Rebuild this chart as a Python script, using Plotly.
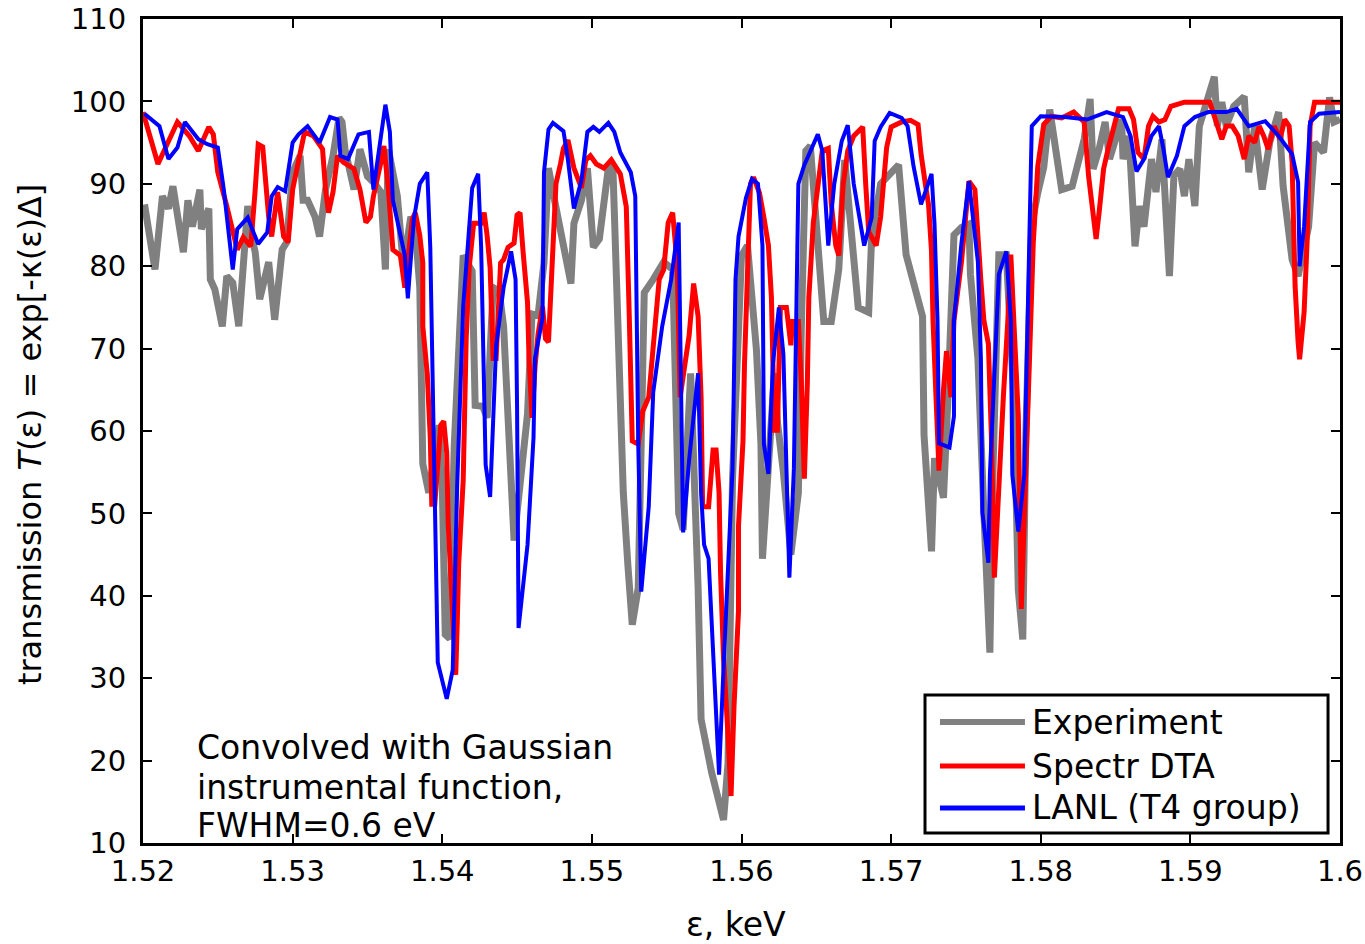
import plotly.graph_objects as go

# ---------------- data ----------------
exp_x = [1.5201, 1.5208, 1.5213, 1.5217, 1.5220, 1.5223, 1.5227, 1.5230, 1.5233, 1.5238,
         1.5239, 1.5244, 1.5245, 1.5248, 1.5253, 1.5256, 1.5260, 1.5264, 1.5270, 1.5273,
         1.5275, 1.5278, 1.5284, 1.5288, 1.5293, 1.5296, 1.5300, 1.5305, 1.5307, 1.5310,
         1.5315, 1.5318, 1.5322, 1.5327, 1.5331, 1.5333, 1.5335, 1.5341, 1.5345, 1.5350,
         1.5354, 1.5359, 1.5362, 1.5364, 1.5370, 1.5374, 1.5379, 1.5382, 1.5385, 1.5387,
         1.5391, 1.5398, 1.5400, 1.5402, 1.5405, 1.5408, 1.5414, 1.5420, 1.5422, 1.5427,
         1.5430, 1.5434, 1.5438, 1.5441, 1.5446, 1.5448, 1.5452, 1.5457, 1.5460, 1.5464,
         1.5468, 1.5471, 1.5474, 1.5480, 1.5486, 1.5488, 1.5493, 1.5497, 1.5501, 1.5505,
         1.5511, 1.5514, 1.5517, 1.5521, 1.5524, 1.5527, 1.5531, 1.5535, 1.5541, 1.5548,
         1.5554, 1.5558, 1.5561, 1.5566, 1.5571, 1.5573, 1.5580, 1.5588, 1.5591, 1.5594,
         1.5600, 1.5604, 1.5610, 1.5613, 1.5614, 1.5618, 1.5622, 1.5624, 1.5628, 1.5633,
         1.5638, 1.5640, 1.5643, 1.5646, 1.5653, 1.5655, 1.5660, 1.5665, 1.5669, 1.5673,
         1.5678, 1.5685, 1.5687, 1.5693, 1.5702, 1.5705, 1.5710, 1.5715, 1.5721, 1.5722,
         1.5727, 1.5729, 1.5735, 1.5738, 1.5742, 1.5747, 1.5752, 1.5753, 1.5758, 1.5762,
         1.5766, 1.5768, 1.5772, 1.5777, 1.5782, 1.5785, 1.5788, 1.5790, 1.5794, 1.5798,
         1.5802, 1.5806, 1.5809, 1.5814, 1.5821, 1.5826, 1.5829, 1.5833, 1.5835, 1.5839,
         1.5843, 1.5846, 1.5849, 1.5854, 1.5855, 1.5859, 1.5863, 1.5866, 1.5869, 1.5874,
         1.5877, 1.5881, 1.5886, 1.5889, 1.5893, 1.5896, 1.5899, 1.5903, 1.5906, 1.5912,
         1.5916, 1.5918, 1.5921, 1.5924, 1.5929, 1.5936, 1.5939, 1.5943, 1.5948, 1.5953,
         1.5959, 1.5962, 1.5968, 1.5972, 1.5979, 1.5983, 1.5989, 1.5993, 1.5996, 1.6000]
exp_y = [87.5, 79.6, 88.5, 87.0, 89.7, 86.0, 81.7, 88.0, 84.8, 89.3,
         84.5, 87.0, 78.4, 77.2, 72.7, 78.8, 78.0, 72.7, 87.3, 83.3,
         81.7, 76.0, 80.5, 73.5, 82.0, 82.9, 91.4, 93.4, 88.0, 88.0,
         86.0, 83.6, 89.3, 93.4, 98.0, 97.5, 94.2, 89.3, 94.2, 90.9,
         90.2, 89.0, 79.6, 94.2, 88.5, 80.0, 86.0, 84.5, 77.4, 56.0,
         52.5, 60.7, 53.5, 35.3, 34.8, 58.2, 81.3, 79.4, 63.1, 63.0,
         61.6, 77.4, 77.0, 72.7, 53.5, 46.7, 53.5, 62.1, 74.2, 74.0,
         80.4, 91.9, 89.0, 83.3, 77.9, 85.2, 88.0, 91.9, 82.3, 83.3,
         91.9, 92.3, 72.7, 52.5, 43.9, 36.5, 41.0, 76.8, 78.4, 80.5,
         79.6, 50.0, 48.0, 67.0, 41.0, 25.0, 18.6, 12.8, 19.7, 54.2,
         81.3, 82.5, 69.8, 58.4, 44.5, 55.4, 67.0, 61.1, 55.0, 45.0,
         52.5, 72.7, 94.0, 94.6, 79.6, 73.3, 73.3, 79.6, 92.9, 84.2,
         75.0, 74.4, 83.6, 90.0, 91.7, 92.3, 81.4, 78.2, 73.9, 59.5,
         45.4, 56.7, 51.9, 64.1, 83.8, 84.7, 85.1, 79.0, 68.8, 50.1,
         33.1, 54.7, 81.4, 81.4, 64.1, 40.7, 34.7, 59.5, 85.0, 88.9,
         92.0, 99.0, 95.0, 89.3, 89.7, 93.0, 95.4, 100.3, 91.8, 94.2,
         97.5, 93.0, 95.0, 97.8, 93.0, 95.8, 82.4, 87.3, 84.8, 93.0,
         89.0, 95.4, 78.8, 91.0, 91.8, 88.5, 93.0, 87.3, 97.0, 100.3,
         103.0, 97.0, 99.9, 97.0, 99.4, 100.6, 91.4, 97.0, 89.3, 95.0,
         98.7, 89.7, 80.8, 78.8, 84.8, 95.0, 93.8, 100.5, 97.5, 97.8]

dta_x = [1.5200, 1.5210, 1.5223, 1.5231, 1.5237, 1.5244, 1.5247, 1.5250, 1.5256, 1.5260,
         1.5263, 1.5267, 1.5272, 1.5275, 1.5277, 1.5280, 1.5282, 1.5284, 1.5286, 1.5290,
         1.5294, 1.5297, 1.5300, 1.5305, 1.5308, 1.5314, 1.5320, 1.5322, 1.5324, 1.5327,
         1.5330, 1.5334, 1.5341, 1.5345, 1.5349, 1.5352, 1.5354, 1.5359, 1.5361, 1.5364,
         1.5367, 1.5372, 1.5375, 1.5380, 1.5382, 1.5385, 1.5387, 1.5387, 1.5390, 1.5392,
         1.5393, 1.5395, 1.5399, 1.5401, 1.5403, 1.5404, 1.5407, 1.5409, 1.5410, 1.5411,
         1.5414, 1.5416, 1.5418, 1.5421, 1.5426, 1.5428, 1.5430, 1.5432, 1.5434, 1.5436,
         1.5439, 1.5441, 1.5444, 1.5448, 1.5450, 1.5452, 1.5454, 1.5457, 1.5458, 1.5460,
         1.5462, 1.5464, 1.5467, 1.5469, 1.5471, 1.5474, 1.5476, 1.5479, 1.5481, 1.5484,
         1.5488, 1.5493, 1.5496, 1.5499, 1.5503, 1.5508, 1.5513, 1.5519, 1.5523, 1.5525,
         1.5527, 1.5531, 1.5534, 1.5538, 1.5541, 1.5545, 1.5548, 1.5551, 1.5554, 1.5557,
         1.5559, 1.5565, 1.5568, 1.5571, 1.5573, 1.5574, 1.5578, 1.5581, 1.5583, 1.5585,
         1.5586, 1.5588, 1.5591, 1.5593, 1.5595, 1.5598, 1.5598, 1.5601, 1.5602, 1.5604,
         1.5606, 1.5608, 1.5612, 1.5615, 1.5618, 1.5620, 1.5622, 1.5624, 1.5626, 1.5630,
         1.5633, 1.5634, 1.5638, 1.5640, 1.5642, 1.5644, 1.5645, 1.5648, 1.5651, 1.5654,
         1.5658, 1.5660, 1.5663, 1.5665, 1.5668, 1.5671, 1.5675, 1.5681, 1.5683, 1.5685,
         1.5690, 1.5693, 1.5697, 1.5700, 1.5707, 1.5713, 1.5718, 1.5720, 1.5723, 1.5725,
         1.5727, 1.5728, 1.5730, 1.5732, 1.5735, 1.5737, 1.5740, 1.5742, 1.5747, 1.5750,
         1.5752, 1.5756, 1.5758, 1.5760, 1.5762, 1.5765, 1.5766, 1.5767, 1.5769, 1.5772,
         1.5775, 1.5778, 1.5780, 1.5782, 1.5785, 1.5787, 1.5789, 1.5792, 1.5795, 1.5798,
         1.5802, 1.5807, 1.5814, 1.5822, 1.5829, 1.5832, 1.5835, 1.5837, 1.5839, 1.5842,
         1.5845, 1.5852, 1.5859, 1.5862, 1.5865, 1.5869, 1.5872, 1.5875, 1.5879, 1.5883,
         1.5887, 1.5896, 1.5905, 1.5913, 1.5916, 1.5921, 1.5924, 1.5928, 1.5932, 1.5936,
         1.5939, 1.5943, 1.5946, 1.5949, 1.5952, 1.5956, 1.5960, 1.5963, 1.5966, 1.5968,
         1.5969, 1.5970, 1.5972, 1.5973, 1.5976, 1.5978, 1.5980, 1.5983, 1.6000]
dta_y = [98.7, 92.4, 97.5, 95.8, 94.0, 96.9, 96.0, 91.4, 87.3, 84.1,
         82.0, 83.5, 82.4, 89.3, 94.8, 94.5, 89.3, 86.0, 83.6, 89.0,
         83.6, 82.9, 89.3, 93.4, 96.3, 95.8, 94.2, 89.3, 86.5, 89.0,
         93.4, 92.6, 91.8, 89.3, 85.3, 86.0, 88.5, 92.6, 94.6, 89.3,
         82.0, 81.3, 77.4, 85.7, 86.5, 83.7, 80.4, 72.7, 66.9, 59.2,
         51.1, 51.1, 60.7, 61.2, 57.3, 48.6, 37.6, 30.4, 36.6, 43.9,
         54.0, 71.2, 79.8, 85.2, 85.2, 86.5, 83.7, 79.8, 68.8, 68.8,
         80.4, 80.8, 82.3, 82.8, 86.2, 86.5, 81.8, 75.6, 68.8, 61.6,
         67.8, 71.7, 75.1, 71.2, 70.8, 81.3, 90.0, 92.4, 94.3, 95.3,
         91.9, 89.5, 92.9, 93.4, 92.4, 91.9, 92.9, 91.2, 87.2, 73.9,
         58.8, 58.4, 62.4, 64.1, 71.0, 78.4, 79.6, 85.3, 86.5, 80.2,
         64.1, 71.6, 77.9, 73.9, 64.1, 50.8, 50.8, 57.7, 57.7, 52.5,
         42.8, 32.4, 23.1, 15.7, 26.6, 38.2, 48.5, 58.8, 68.1, 77.3,
         90.0, 90.8, 88.9, 85.9, 82.5, 76.2, 60.1, 60.1, 75.0, 75.0,
         70.4, 73.3, 73.3, 65.8, 54.2, 65.8, 76.2, 85.3, 90.0, 94.0,
         94.3, 87.6, 82.5, 81.3, 90.0, 94.0, 95.8, 96.9, 90.0, 84.2,
         82.5, 86.0, 94.4, 96.9, 97.5, 97.7, 97.2, 93.6, 89.8, 87.5,
         81.8, 73.4, 64.1, 55.2, 65.0, 69.7, 64.1, 73.4, 80.5, 87.0,
         90.3, 89.3, 82.8, 78.2, 73.4, 70.6, 65.0, 59.5, 42.2, 54.7,
         64.1, 73.4, 81.4, 73.4, 61.8, 38.4, 50.1, 64.1, 82.8, 92.1,
         97.2, 98.2, 98.0, 98.7, 97.5, 90.9, 85.7, 83.3, 86.5, 91.8,
         94.2, 99.1, 99.1, 97.8, 93.8, 93.0, 97.0, 98.2, 97.5, 97.8,
         99.4, 99.9, 99.9, 99.9, 98.2, 95.4, 97.0, 97.0, 95.8, 93.0,
         95.8, 95.0, 97.0, 95.8, 94.2, 97.0, 95.4, 97.8, 97.0, 92.6,
         84.8, 77.6, 70.8, 68.7, 74.4, 82.9, 97.0, 99.9, 99.9]

lanl_x = [1.5201, 1.5211, 1.5217, 1.5223, 1.5228, 1.5237, 1.5243, 1.5250, 1.5254, 1.5257,
          1.5260, 1.5263, 1.5270, 1.5273, 1.5277, 1.5283, 1.5286, 1.5290, 1.5295, 1.5300,
          1.5304, 1.5310, 1.5318, 1.5325, 1.5330, 1.5332, 1.5337, 1.5344, 1.5351, 1.5354,
          1.5359, 1.5362, 1.5365, 1.5367, 1.5375, 1.5377, 1.5381, 1.5385, 1.5390, 1.5392,
          1.5397, 1.5403, 1.5407, 1.5410, 1.5414, 1.5420, 1.5424, 1.5426, 1.5429, 1.5432,
          1.5436, 1.5441, 1.5446, 1.5449, 1.5450, 1.5451, 1.5457, 1.5461, 1.5462, 1.5467,
          1.5468, 1.5471, 1.5474, 1.5481, 1.5484, 1.5488, 1.5493, 1.5497, 1.5501, 1.5505,
          1.5511, 1.5515, 1.5519, 1.5526, 1.5529, 1.5531, 1.5533, 1.5538, 1.5541, 1.5547,
          1.5553, 1.5558, 1.5559, 1.5561, 1.5565, 1.5571, 1.5573, 1.5575, 1.5578, 1.5585,
          1.5588, 1.5594, 1.5596, 1.5598, 1.5603, 1.5607, 1.5611, 1.5614, 1.5615, 1.5618,
          1.5621, 1.5625, 1.5628, 1.5632, 1.5635, 1.5638, 1.5642, 1.5651, 1.5654, 1.5658,
          1.5662, 1.5667, 1.5671, 1.5675, 1.5682, 1.5687, 1.5689, 1.5693, 1.5699, 1.5707,
          1.5711, 1.5715, 1.5720, 1.5727, 1.5729, 1.5731, 1.5732, 1.5739, 1.5742, 1.5742,
          1.5747, 1.5752, 1.5758, 1.5760, 1.5761, 1.5765, 1.5766, 1.5772, 1.5777, 1.5780,
          1.5781, 1.5785, 1.5789, 1.5792, 1.5794, 1.5800, 1.5816, 1.5831, 1.5844, 1.5855,
          1.5860, 1.5864, 1.5869, 1.5874, 1.5879, 1.5882, 1.5885, 1.5891, 1.5896, 1.5903,
          1.5912, 1.5924, 1.5931, 1.5939, 1.5950, 1.5959, 1.5968, 1.5972, 1.5973, 1.5976,
          1.5980, 1.5986, 1.6000]
lanl_y = [98.5, 97.0, 93.0, 94.4, 97.5, 95.4, 94.8, 94.4, 89.3, 84.1,
          79.6, 84.5, 85.9, 84.5, 82.7, 84.1, 88.5, 89.6, 89.1, 95.0,
          96.0, 97.0, 95.0, 98.1, 97.8, 93.4, 93.0, 96.0, 96.3, 89.3,
          95.4, 99.6, 96.3, 88.0, 81.3, 76.1, 85.7, 90.0, 91.4, 82.3,
          31.9, 27.5, 31.0, 53.5, 75.1, 89.5, 91.2, 82.3, 55.9, 52.0,
          70.3, 77.4, 81.8, 78.4, 63.1, 36.1, 46.2, 59.2, 68.8, 73.7,
          91.4, 96.6, 97.4, 96.4, 92.9, 87.0, 90.4, 96.3, 96.9, 96.3,
          97.4, 96.3, 93.8, 91.4, 88.5, 58.4, 40.5, 50.8, 64.7, 72.7,
          78.4, 85.3, 72.7, 47.7, 56.5, 67.0, 52.5, 46.2, 44.5, 18.3,
          31.3, 55.4, 78.4, 83.6, 88.3, 90.6, 90.0, 82.5, 58.4, 54.8,
          68.1, 75.0, 69.3, 42.2, 55.4, 90.0, 92.3, 96.0, 94.0, 82.5,
          90.0, 95.2, 97.1, 90.0, 82.5, 85.9, 95.2, 96.9, 98.6, 98.0,
          97.0, 92.1, 87.5, 91.2, 85.1, 73.4, 58.5, 58.0, 61.8, 73.4,
          82.8, 90.3, 80.5, 68.8, 50.1, 44.0, 54.7, 79.0, 81.8, 73.4,
          54.7, 47.8, 54.7, 80.5, 97.0, 98.2, 98.1, 97.8, 98.7, 98.1,
          95.8, 91.5, 93.0, 95.8, 97.0, 94.2, 90.8, 93.4, 97.0, 98.1,
          98.7, 98.7, 99.1, 97.0, 97.6, 95.8, 93.6, 90.2, 80.0, 84.8,
          97.5, 98.5, 98.7]

series_names = ["Experiment", "Spectr DTA", "LANL (T4 group)"]
series_colors = ["#808080", "#ff0000", "#0000ff"]
series_widths = [7, 5, 4]

x_ticks = [1.52, 1.53, 1.54, 1.55, 1.56, 1.57, 1.58, 1.59, 1.60]
x_tick_labels = ["1.52", "1.53", "1.54", "1.55", "1.56", "1.57", "1.58", "1.59", "1.6"]
y_ticks = [10, 20, 30, 40, 50, 60, 70, 80, 90, 100, 110]
y_tick_labels = [str(v) for v in y_ticks]

note_lines = ["Convolved with Gaussian", "instrumental function,", "FWHM=0.6 eV"]

# ---------------- figure ----------------
FONT = "DejaVu Sans, Arial, sans-serif"
fig = go.Figure()
for xs, ys, name, col, w in zip([exp_x, dta_x, lanl_x], [exp_y, dta_y, lanl_y],
                                series_names, series_colors, series_widths):
    fig.add_trace(go.Scatter(x=xs, y=ys, mode="lines", name=name,
                             line=dict(color=col, width=w), showlegend=False))

axis_common = dict(showline=True, linewidth=3, linecolor="black", mirror="ticks",
                   ticks="inside", ticklen=9, tickwidth=2, tickcolor="black",
                   showgrid=False, zeroline=False, automargin=False,
                   ticklabeloverflow="allow",
                   tickfont=dict(family=FONT, size=29, color="black"))
fig.update_xaxes(range=[1.52, 1.60], tickvals=x_ticks, ticktext=x_tick_labels,
                 ticklabelstandoff=0, **axis_common)
fig.update_yaxes(range=[10, 110], tickvals=y_ticks, ticktext=y_tick_labels,
                 ticklabelstandoff=8, **axis_common)

# custom legend (box, line samples, labels) in paper coordinates
shapes = [dict(type="rect", xref="paper", yref="paper", x0=0.6533, x1=0.99, y0=0.0121, y1=0.1796,
               line=dict(color="black", width=3), fillcolor="white", layer="above")]
rows = [0.1468, 0.0934, 0.0425]
annotations = []
for r, name, col, w in zip(rows, series_names, series_colors, [6, 5, 5]):
    shapes.append(dict(type="line", xref="paper", yref="paper", x0=0.6658, x1=0.7368, y0=r, y1=r,
                       line=dict(color=col, width=w), layer="above"))
    annotations.append(dict(xref="paper", yref="paper", x=0.741, y=r, xanchor="left", yanchor="middle",
                            text=name, showarrow=False, font=dict(family=FONT, size=33, color="black")))

for yy, line in zip([0.1153, 0.0668, 0.0218], note_lines):
    annotations.append(dict(xref="paper", yref="paper", x=0.0434, y=yy, xanchor="left", yanchor="middle",
                            text=line, showarrow=False, font=dict(family=FONT, size=33, color="black")))
annotations.append(dict(xref="paper", yref="paper", x=0.495, y=-0.0995, xanchor="center", yanchor="middle",
                        text="ε, keV", showarrow=False, font=dict(family=FONT, size=33, color="black")))
annotations.append(dict(xref="paper", yref="paper", x=-0.0944, y=0.495, xanchor="center", yanchor="middle",
                        textangle=-90, text="transmission <i>T</i>(ε) = exp[-κ(ε)Δ]", showarrow=False,
                        font=dict(family=FONT, size=32, color="black")))

fig.update_layout(width=1365, height=944, margin=dict(l=143, r=25, t=19, b=101),
                  plot_bgcolor="white", paper_bgcolor="white",
                  shapes=shapes, annotations=annotations, showlegend=False)

# remove the default page margin so the figure sits at the window's top-left corner
fig.write_html("out.html", config={"displayModeBar": False},
               post_script="document.body.style.margin='0px';document.body.style.overflow='hidden';")
